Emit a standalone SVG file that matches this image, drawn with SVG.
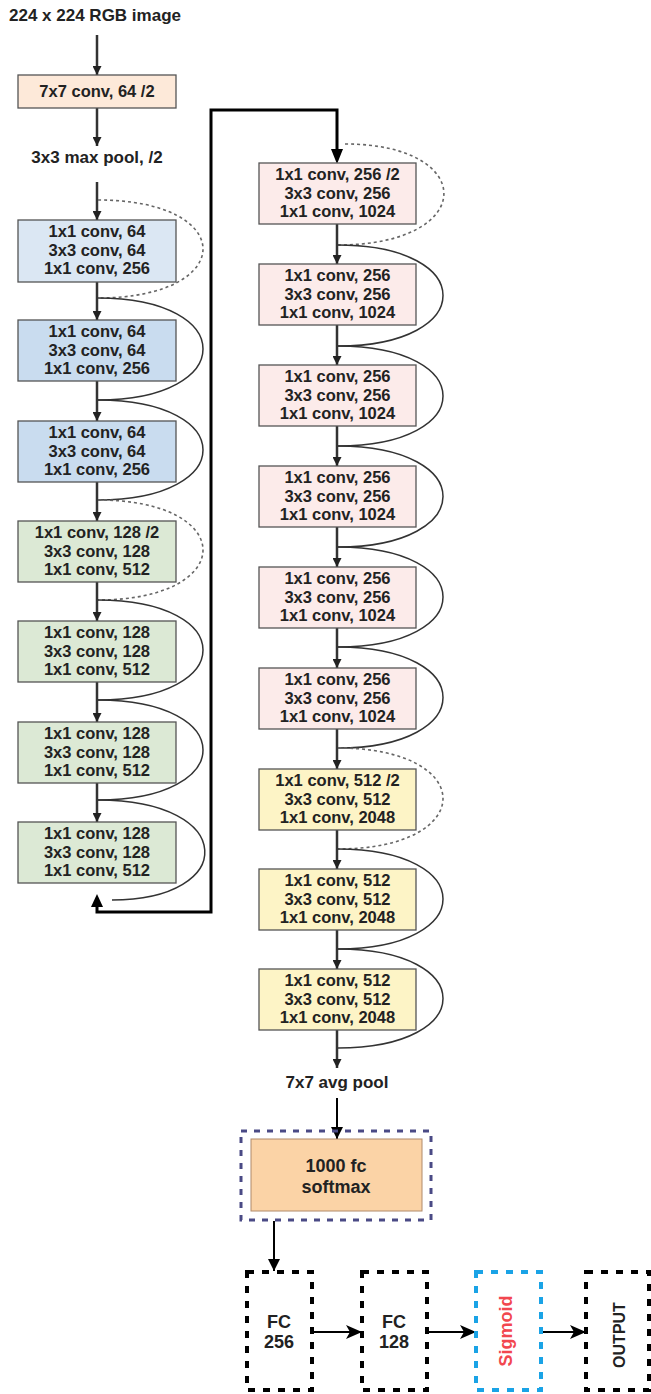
<svg xmlns="http://www.w3.org/2000/svg" width="651" height="1394" viewBox="0 0 651 1394">
<defs>
<style>
text{font-family:"Liberation Sans",Arial,sans-serif;font-weight:bold;fill:#222;text-anchor:middle}
.bt{font-size:16.5px}
.lbl{font-size:17px}
.box{stroke:#555;stroke-width:1.3}
.blue1{fill:#dbe7f3}.blue2{fill:#c9dcef}.green{fill:#dce9d5}.pink{fill:#fcebea}.yellow{fill:#fdf4c6}
.arr{stroke:#333;stroke-width:2.5;fill:none;marker-end:url(#ah)}
.skip{stroke:#333;stroke-width:1.5;fill:none}
.dskip{stroke:#666;stroke-width:1.6;fill:none;stroke-dasharray:3 3}
.big{stroke:#000;stroke-width:3;fill:none}
.fcb{fill:none;stroke:#000;stroke-width:4;stroke-dasharray:7 8}
.harr{stroke:#000;stroke-width:2;fill:none;marker-end:url(#ahb)}
</style>
<marker id="ah" markerUnits="userSpaceOnUse" markerWidth="9" markerHeight="9" refX="9" refY="4.5" orient="auto"><path d="M0,0 L9,4.5 L0,9 z" fill="#222"/></marker>
<marker id="ahb" markerUnits="userSpaceOnUse" markerWidth="16" markerHeight="14" refX="16" refY="7" orient="auto"><path d="M0,0 L16,7 L0,14 L4,7 z" fill="#000"/></marker>
<marker id="ahc" markerUnits="userSpaceOnUse" markerWidth="12" markerHeight="12" refX="12" refY="6" orient="auto"><path d="M0,0 L12,6 L0,12 z" fill="#000"/></marker>
</defs>
<rect width="651" height="1394" fill="#fff"/>

<g id="connectors">
<line class="arr" x1="97" y1="35" x2="97" y2="75"/>
<line class="arr" x1="97" y1="108" x2="97" y2="146"/>
<line class="arr" x1="97" y1="182" x2="97" y2="220"/>
<line class="arr" x1="97" y1="282" x2="97" y2="320"/>
<line class="arr" x1="97" y1="381" x2="97" y2="421"/>
<line class="arr" x1="97" y1="482" x2="97" y2="521"/>
<line class="arr" x1="97" y1="582" x2="97" y2="621"/>
<line class="arr" x1="97" y1="682" x2="97" y2="722"/>
<line class="arr" x1="97" y1="783" x2="97" y2="822"/>
<path class="dskip" d="M98,200 C238,200 238,298 98,298"/>
<path class="skip" d="M98,298 C238,298 238,400 98,400"/>
<path class="skip" d="M98,400 C238,400 238,500 98,500"/>
<path class="dskip" d="M98,500 C238,500 238,600 98,600"/>
<path class="skip" d="M98,600 C238,600 238,700 98,700"/>
<path class="skip" d="M98,700 C238,700 238,800 98,800"/>
<path class="skip" d="M98,800 C238,800 238,900 112,900"/>
<path class="big" d="M97,905 L97,912 L211,912 L211,110 L337,110 L337,150" />
<path d="M91,907 L97,894 L103,907 z" fill="#000"/>
<path d="M331,149 L337,164 L343,149 z" fill="#000"/>
<line class="arr" x1="337" y1="224" x2="337" y2="264"/>
<line class="arr" x1="337" y1="325" x2="337" y2="365"/>
<line class="arr" x1="337" y1="426" x2="337" y2="466"/>
<line class="arr" x1="337" y1="527" x2="337" y2="567"/>
<line class="arr" x1="337" y1="628" x2="337" y2="668"/>
<line class="arr" x1="337" y1="729" x2="337" y2="769"/>
<line class="arr" x1="337" y1="830" x2="337" y2="869"/>
<line class="arr" x1="337" y1="930" x2="337" y2="969"/>
<line class="arr" x1="337" y1="1030" x2="337" y2="1068"/>
<path class="dskip" d="M345,144 C478,144 478,245 338,245"/>
<path class="skip" d="M338,245 C478,245 478,346 338,346"/>
<path class="skip" d="M338,346 C478,346 478,446 338,446"/>
<path class="skip" d="M338,446 C478,446 478,547 338,547"/>
<path class="skip" d="M338,547 C478,547 478,647 338,647"/>
<path class="skip" d="M338,647 C478,647 478,748 338,748"/>
<path class="dskip" d="M338,748 C478,748 478,849 338,849"/>
<path class="skip" d="M338,849 C478,849 478,949 338,949"/>
<path class="skip" d="M338,949 C478,949 478,1048 338,1048"/>
<line x1="337" y1="1098" x2="337" y2="1139" stroke="#000" stroke-width="2" marker-end="url(#ahc)"/>
<line x1="274" y1="1221" x2="274" y2="1271" stroke="#000" stroke-width="2" marker-end="url(#ahc)"/>
<line class="harr" x1="314" y1="1332" x2="362" y2="1332"/>
<line class="harr" x1="429" y1="1332" x2="476" y2="1332"/>
<line class="harr" x1="543" y1="1332" x2="586" y2="1332"/>
</g>

<g id="input"><text class="lbl" x="95" y="21">224 x 224 RGB image</text></g>
<g id="conv1"><rect class="box" x="18" y="75" width="158" height="33" fill="#fde9d9"/><text class="bt" x="97" y="97">7x7 conv, 64 /2</text></g>
<g id="maxpool"><text class="lbl" x="97" y="163">3x3 max pool, /2</text></g>

<g id="L1"><rect class="box blue1" x="18" y="220" width="158" height="62"/><text class="bt" x="97" y="237">1x1 conv, 64</text><text class="bt" x="97" y="255.5">3x3 conv, 64</text><text class="bt" x="97" y="274">1x1 conv, 256</text></g>
<g id="L2"><rect class="box blue2" x="18" y="320" width="158" height="61"/><text class="bt" x="97" y="337">1x1 conv, 64</text><text class="bt" x="97" y="355.5">3x3 conv, 64</text><text class="bt" x="97" y="374">1x1 conv, 256</text></g>
<g id="L3"><rect class="box blue2" x="18" y="421" width="158" height="61"/><text class="bt" x="97" y="438">1x1 conv, 64</text><text class="bt" x="97" y="456.5">3x3 conv, 64</text><text class="bt" x="97" y="475">1x1 conv, 256</text></g>
<g id="L4"><rect class="box green" x="18" y="521" width="158" height="61"/><text class="bt" x="97" y="538">1x1 conv, 128 /2</text><text class="bt" x="97" y="556.5">3x3 conv, 128</text><text class="bt" x="97" y="575">1x1 conv, 512</text></g>
<g id="L5"><rect class="box green" x="18" y="621" width="158" height="61"/><text class="bt" x="97" y="638">1x1 conv, 128</text><text class="bt" x="97" y="656.5">3x3 conv, 128</text><text class="bt" x="97" y="675">1x1 conv, 512</text></g>
<g id="L6"><rect class="box green" x="18" y="722" width="158" height="61"/><text class="bt" x="97" y="739">1x1 conv, 128</text><text class="bt" x="97" y="757.5">3x3 conv, 128</text><text class="bt" x="97" y="776">1x1 conv, 512</text></g>
<g id="L7"><rect class="box green" x="18" y="822" width="158" height="61"/><text class="bt" x="97" y="839">1x1 conv, 128</text><text class="bt" x="97" y="857.5">3x3 conv, 128</text><text class="bt" x="97" y="876">1x1 conv, 512</text></g>

<g id="R1"><rect class="box pink" x="259" y="163" width="157" height="61"/><text class="bt" x="337.5" y="180">1x1 conv, 256 /2</text><text class="bt" x="337.5" y="198.5">3x3 conv, 256</text><text class="bt" x="337.5" y="217">1x1 conv, 1024</text></g>
<g id="R2"><rect class="box pink" x="259" y="264" width="157" height="61"/><text class="bt" x="337.5" y="281">1x1 conv, 256</text><text class="bt" x="337.5" y="299.5">3x3 conv, 256</text><text class="bt" x="337.5" y="318">1x1 conv, 1024</text></g>
<g id="R3"><rect class="box pink" x="259" y="365" width="157" height="61"/><text class="bt" x="337.5" y="382">1x1 conv, 256</text><text class="bt" x="337.5" y="400.5">3x3 conv, 256</text><text class="bt" x="337.5" y="419">1x1 conv, 1024</text></g>
<g id="R4"><rect class="box pink" x="259" y="466" width="157" height="61"/><text class="bt" x="337.5" y="483">1x1 conv, 256</text><text class="bt" x="337.5" y="501.5">3x3 conv, 256</text><text class="bt" x="337.5" y="520">1x1 conv, 1024</text></g>
<g id="R5"><rect class="box pink" x="259" y="567" width="157" height="61"/><text class="bt" x="337.5" y="584">1x1 conv, 256</text><text class="bt" x="337.5" y="602.5">3x3 conv, 256</text><text class="bt" x="337.5" y="621">1x1 conv, 1024</text></g>
<g id="R6"><rect class="box pink" x="259" y="668" width="157" height="61"/><text class="bt" x="337.5" y="685">1x1 conv, 256</text><text class="bt" x="337.5" y="703.5">3x3 conv, 256</text><text class="bt" x="337.5" y="722">1x1 conv, 1024</text></g>
<g id="R7"><rect class="box yellow" x="259" y="769" width="157" height="61"/><text class="bt" x="337.5" y="786">1x1 conv, 512 /2</text><text class="bt" x="337.5" y="804.5">3x3 conv, 512</text><text class="bt" x="337.5" y="823">1x1 conv, 2048</text></g>
<g id="R8"><rect class="box yellow" x="259" y="869" width="157" height="61"/><text class="bt" x="337.5" y="886">1x1 conv, 512</text><text class="bt" x="337.5" y="904.5">3x3 conv, 512</text><text class="bt" x="337.5" y="923">1x1 conv, 2048</text></g>
<g id="R9"><rect class="box yellow" x="259" y="969" width="157" height="61"/><text class="bt" x="337.5" y="986">1x1 conv, 512</text><text class="bt" x="337.5" y="1004.5">3x3 conv, 512</text><text class="bt" x="337.5" y="1023">1x1 conv, 2048</text></g>

<g id="avgpool"><text class="lbl" x="337" y="1088">7x7 avg pool</text></g>
<g id="fc1000">
<rect x="241" y="1131" width="190" height="89" fill="none" stroke="#4a4a85" stroke-width="3" stroke-dasharray="6 7"/>
<rect x="251" y="1139" width="171" height="72" fill="#fbd3a6" stroke="#b08a6a" stroke-width="1"/>
<text x="336" y="1172" style="font-size:18px">1000 fc</text>
<text x="336" y="1193" style="font-size:18px">softmax</text>
</g>
<g id="fc256"><rect class="fcb" x="247" y="1272" width="65" height="118"/><text x="279" y="1328" style="font-size:18px">FC</text><text x="279" y="1348" style="font-size:18px">256</text></g>
<g id="fc128"><rect class="fcb" x="362" y="1272" width="65" height="118"/><text x="394" y="1328" style="font-size:18px">FC</text><text x="394" y="1348" style="font-size:18px">128</text></g>
<g id="sigmoid"><rect x="476" y="1272" width="65" height="118" fill="none" stroke="#1aa3e6" stroke-width="4" stroke-dasharray="7 8"/><text transform="translate(512,1331) rotate(-90)" style="font-size:18px;fill:#f2474f">Sigmoid</text></g>
<g id="output"><rect class="fcb" x="586" y="1272" width="63" height="118"/><text transform="translate(625,1335) rotate(-90)" style="font-size:16px">OUTPUT</text></g>
</svg>
